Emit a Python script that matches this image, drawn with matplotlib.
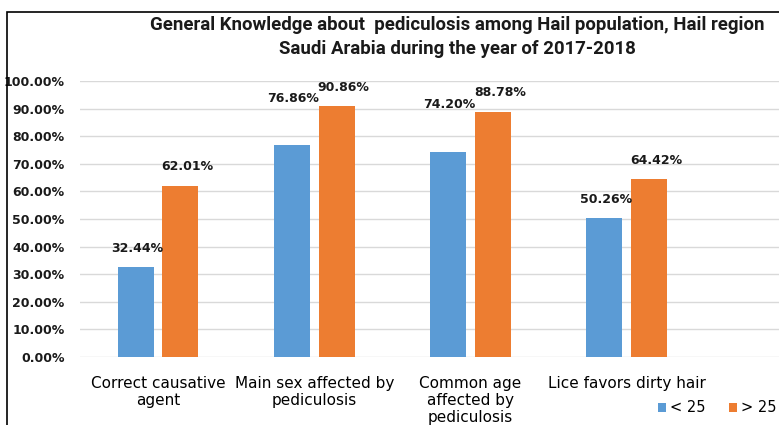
import numpy as np
import matplotlib.pyplot as plt
from matplotlib.patches import Rectangle

categories = ["Correct causative\nagent", "Main sex affected by\npediculosis",
              "Common age\naffected by\npediculosis", "Lice favors dirty hair"]
under_25 = [32.44, 76.86, 74.20, 50.26]
over_25 = [62.01, 90.86, 88.78, 64.42]
yticks = [0, 10, 20, 30, 40, 50, 60, 70, 80, 90, 100]
title = ("General Knowledge about  pediculosis among Hail population, Hail region\n"
         "Saudi Arabia during the year of 2017-2018")

# extra lift (points) for labels that were moved in the original
lift_under = [0, 20, 21, 0]
lift_over = [0, 0, 0, 0]

blue = "#5B9BD5"
orange = "#ED7D31"

W, H = 779, 425
fig = plt.figure(figsize=(W / 100, H / 100), dpi=100)
ax = fig.add_axes([80 / W, 68 / H, 1 - 80 / W + 0.001, 276 / H])

x = np.arange(len(categories))
off, bw = 0.143, 0.23
b1 = ax.bar(x - off, under_25, bw, color=blue, label="< 25", zorder=3)
b2 = ax.bar(x + off, over_25, bw, color=orange, label="> 25", zorder=3)

for i in range(len(categories)):
    ax.annotate(f"{under_25[i]:.2f}%", (x[i] - off, under_25[i]),
                xytext=(1, 9 + lift_under[i]), textcoords="offset points",
                ha="center", va="bottom", fontsize=9, fontweight="bold", color="#1a1a1a")
    ax.annotate(f"{over_25[i]:.2f}%", (x[i] + off, over_25[i]),
                xytext=(5, 9 + lift_over[i]), textcoords="offset points",
                ha="center", va="bottom", fontsize=9, fontweight="bold", color="#1a1a1a")

ax.set_xlim(-0.5, -0.5 + (W - 80) / 156)
ax.set_ylim(0, 100)
ax.set_yticks(yticks)
ax.set_yticklabels([f"{v:.2f}%" for v in yticks], fontsize=9, fontweight="bold",
                   color="#1a1a1a")
ax.set_xticks(x)
ax.set_xticklabels(categories, fontsize=11, linespacing=1.15)
ax.tick_params(axis="both", length=0)
ax.tick_params(axis="y", pad=11)
ax.tick_params(axis="x", pad=14)
ax.grid(axis="y", color="#D9D9D9", linewidth=1, zorder=0)
for s in ax.spines.values():
    s.set_visible(False)

fig.text(457 / W, 1 - 16 / H, title, ha="center", va="top", fontsize=13.4,
         family="Roboto", fontweight="bold", linespacing=1.45, color="#1a1a1a")

leg = fig.legend(handles=[b1, b2], loc="center right", bbox_to_anchor=(1.014, 1 - 408 / H),
                 ncol=2, frameon=False, handlelength=0.55, handleheight=0.55,
                 handletextpad=0.3, columnspacing=1.6, prop={"size": 10.5})

fig.patches.append(Rectangle((7 / W, -0.1), 1.2, 1 - 12 / H + 0.1, transform=fig.transFigure,
                             fill=False, edgecolor="black", linewidth=1.2))

fig.savefig("out.png", dpi=100)
